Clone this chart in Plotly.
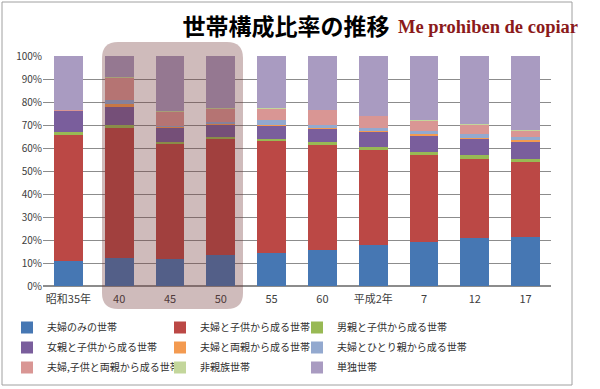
import plotly.graph_objects as go

# ---- data (percent of households) ----
years = ["昭和35年", "40", "45", "50", "55", "60", "平成2年", "7", "12", "17"]

fufu_nomi      = [10.8, 12.3, 11.7, 13.5, 14.5, 15.6, 17.8, 19.2, 20.8, 21.4]
fufu_kodomo    = [54.8, 56.6, 50.3, 50.2, 48.7, 45.9, 41.4, 37.8, 34.5, 32.4]
chichioya      = [1.5, 1.0, 0.6, 0.9, 0.9, 0.9, 1.1, 1.3, 1.5, 1.3]
hahaoya        = [9.0, 8.0, 6.3, 5.6, 5.8, 6.1, 6.7, 7.3, 7.2, 7.9]
fufu_ryoshin   = [0.1, 1.4, 0.3, 0.3, 0.2, 0.3, 0.3, 0.4, 0.4, 0.6]
fufu_hitorioya = [0.1, 1.5, 0.5, 1.0, 2.0, 1.3, 1.6, 1.6, 1.8, 1.2]
fufu_kodomo_ryoshin = [0.1, 9.8, 6.3, 5.6, 5.1, 6.5, 5.1, 4.4, 3.9, 2.6]
hishinzoku     = [0.0, 0.1, 0.1, 0.1, 0.1, 0.1, 0.1, 0.2, 0.2, 0.4]
tandoku        = [23.7, 9.3, 23.9, 22.8, 22.7, 23.3, 25.9, 27.8, 29.7, 32.2]

series = [
    ("夫婦のみの世帯", fufu_nomi, "#4677B3"),
    ("夫婦と子供から成る世帯", fufu_kodomo, "#BB4845"),
    ("男親と子供から成る世帯", chichioya, "#98B954"),
    ("女親と子供から成る世帯", hahaoya, "#7A5E9C"),
    ("夫婦と両親から成る世帯", fufu_ryoshin, "#F39A50"),
    ("夫婦とひとり親から成る世帯", fufu_hitorioya, "#93A9CF"),
    ("夫婦,子供と両親から成る世帯", fufu_kodomo_ryoshin, "#D99694"),
    ("非親族世帯", hishinzoku, "#C3D69B"),
    ("単独世帯", tandoku, "#A99BC1"),
]
yticks = [0, 10, 20, 30, 40, 50, 60, 70, 80, 90, 100]
ytext = [f"{v}%" for v in yticks]

# ---- layout geometry (pixels) ----
W, H = 600, 389
ML, MR, MT, MB = 43, 49, 56, 103
PW, PH = W - ML - MR, H - MT - MB


def px(x):
    return (x - ML) / PW


def py(y):
    return (H - MB - y) / PH


JP = "Noto Sans CJK JP"

fig = go.Figure()
legend_ids = ["legend", "legend2", "legend3"]
for i, (name, vals, col) in enumerate(series):
    fig.add_trace(go.Bar(x=years, y=vals, name=name, legend=legend_ids[i % 3],
                         legendgroup=name,
                         marker=dict(color=col, line=dict(width=0))))

# highlight rounded rectangle
x0, x1, y0, y1 = px(102), px(243), py(42), py(309)
rx, ry = 16 / PW, 16 / PH
path = (f"M {x0+rx} {y0} L {x1-rx} {y0} Q {x1} {y0} {x1} {y0-ry} "
        f"L {x1} {y1+ry} Q {x1} {y1} {x1-rx} {y1} L {x0+rx} {y1} "
        f"Q {x0} {y1} {x0} {y1+ry} L {x0} {y0-ry} Q {x0} {y0} {x0+rx} {y0} Z")

shapes = [
    dict(type="path", xref="paper", yref="paper", path=path,
         fillcolor="rgba(110,50,50,0.33)", line=dict(width=0), layer="above"),
    dict(type="rect", xref="paper", yref="paper", x0=px(2), x1=px(572), y0=py(385), y1=py(2),
         line=dict(color="#A0A0A0", width=1), fillcolor="rgba(0,0,0,0)", layer="below"),
]


def leg(xpix):
    return dict(orientation="v", xref="container", yref="container",
                x=xpix / W, xanchor="left", y=1 - 313 / H, yanchor="top",
                itemwidth=30, font=dict(family=JP, size=10, color="#303030"),
                traceorder="grouped", tracegroupgap=1, bgcolor="rgba(0,0,0,0)")


fig.update_layout(
    width=W, height=H, autosize=False,
    margin=dict(l=ML, r=MR, t=MT, b=MB, autoexpand=False),
    paper_bgcolor="white", plot_bgcolor="white",
    barmode="stack", bargap=0.43,
    font=dict(family=JP, color="#404040"),
    title=dict(text="世帯構成比率の推移", x=286 / W, xanchor="center", xref="container",
               y=1 - 27 / H, yanchor="middle", yref="container",
               font=dict(family=JP, size=23, color="black", weight="bold")),
    showlegend=True,
    legend=leg(7), legend2=leg(160), legend3=leg(297),
    shapes=shapes,
    annotations=[dict(text="<b>Me prohiben de copiar</b>", xref="paper", yref="paper",
                      x=px(396), xanchor="left", y=py(27), yanchor="middle", showarrow=False,
                      font=dict(family="Liberation Serif", size=18.5, color="#8B1A1A"))],
)
fig.update_xaxes(type="category", tickfont=dict(size=11, color="#404040"), showgrid=False,
                 ticks="", showline=False, automargin=False, ticklabelstandoff=5)
fig.update_yaxes(range=[0, 100], tickvals=yticks, ticktext=ytext, showgrid=True,
                 gridcolor="#8C8C8C", gridwidth=1, zeroline=True, zerolinecolor="#8C8C8C",
                 tickfont=dict(size=10, color="#404040"), ticks="", automargin=False)

fig.write_html("out.html", config={"displayModeBar": False},
               post_script="document.body.style.margin='0';")
